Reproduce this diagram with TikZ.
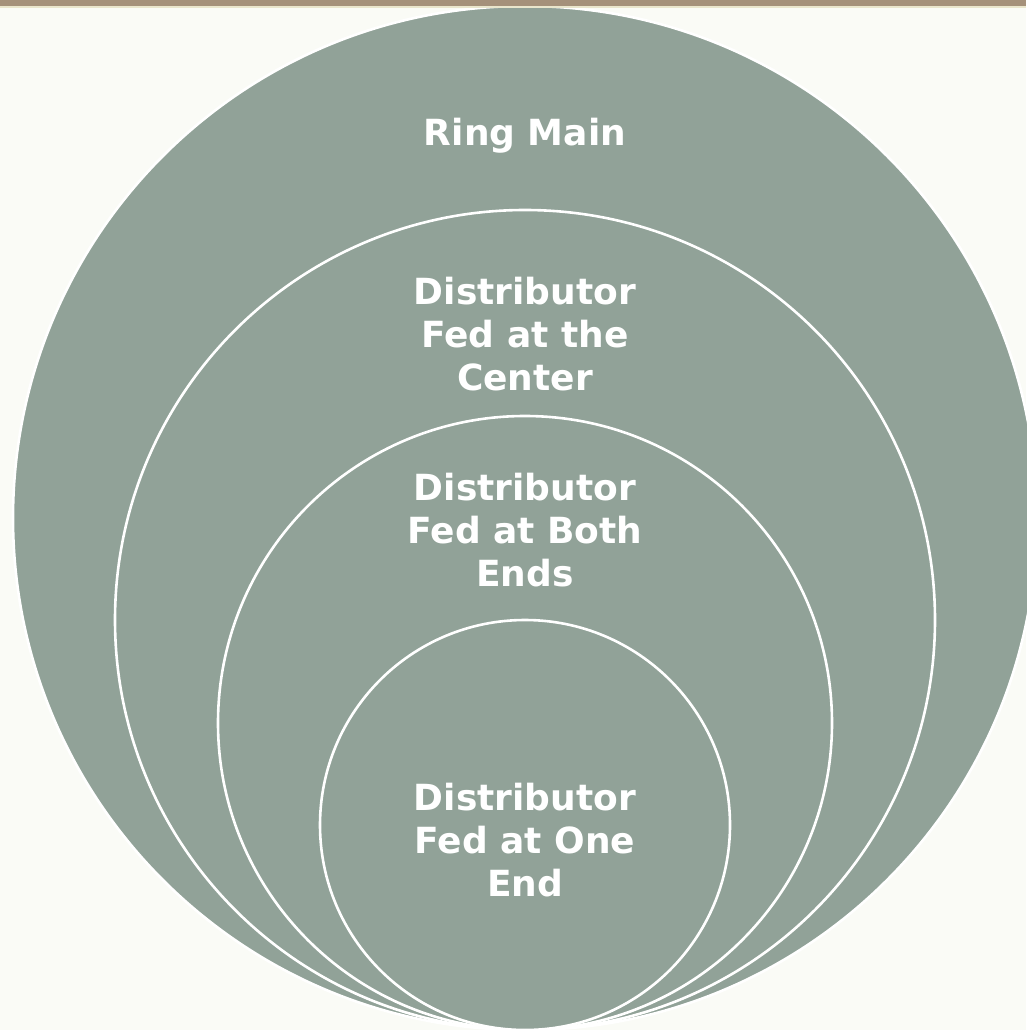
\documentclass[tikz,border=0pt]{standalone}
\usepackage{fontspec}
\setmainfont{DejaVu Sans}
\usepackage{tikz}
\usetikzlibrary{shapes,calc}
\definecolor{ringfill}{RGB}{145,162,152}
\definecolor{pagebg}{RGB}{250,251,246}
\definecolor{barbrown}{RGB}{165,145,122}
\definecolor{barcream}{RGB}{234,230,204}
\tikzstyle{ringdisc} = [circle, draw=white, line width=2.6pt, fill=ringfill, inner sep=0pt]
\tikzstyle{ringtext} = [text=white, font=\fontsize{36}{43}\selectfont\bfseries, align=center]

\begin{document}
\begin{tikzpicture}[x=1pt, y=-1pt]
      \pgfmathsetmacro{\cx}{525}
      \pgfmathsetmacro{\by}{1030}
      \useasboundingbox (0,0) rectangle (1026,1030);
      \fill [pagebg] (0,0) rectangle (1026,1030);
      % nested rings, all touching the bottom edge
      \node [ringdisc, minimum size=1024pt] at (\cx, \by - 512) (r1) {};
      \node [ringdisc, minimum size=820pt]  at (\cx, \by - 410) (r2) {};
      \node [ringdisc, minimum size=614pt]  at (\cx, \by - 307) (r3) {};
      \node [ringdisc, minimum size=410pt]  at (\cx, \by - 205) (r4) {};
      \fill [barcream] (0,0) rectangle (1026,8);
      \fill [barbrown] (0,0) rectangle (1026,6);
      \node [ringtext] at (\cx, 136) (t1) {Ring Main};
      \node [ringtext] at (\cx, 334) (t2) {Distributor\\Fed at the\\Center};
      \node [ringtext] at (\cx, 530) (t3) {Distributor\\Fed at Both\\Ends};
      \node [ringtext] at (\cx, 840) (t4) {Distributor\\Fed at One\\End};
    \end{tikzpicture}
\end{document}
